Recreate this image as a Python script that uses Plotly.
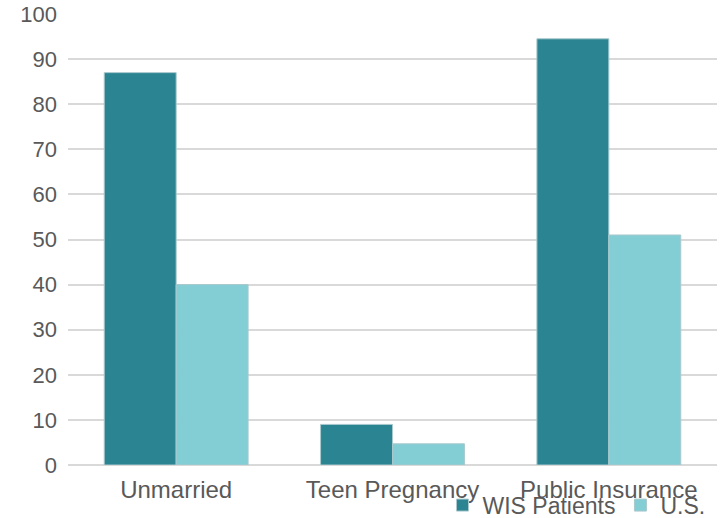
import plotly.graph_objects as go

categories = ["Unmarried", "Teen Pregnancy", "Public Insurance"]
wis_patients = [87, 9, 94.5]
us_values = [40, 4.7, 51]
y_ticks = [0, 10, 20, 30, 40, 50, 60, 70, 80, 90, 100]

FONT = "Liberation Sans, Arial, sans-serif"
TXT = "#595959"

fig = go.Figure()
fig.add_trace(go.Bar(
    x=categories, y=wis_patients, name="WIS Patients",
    marker=dict(color="#2A8491", line=dict(color="#A9C9CD", width=1)),
))
fig.add_trace(go.Bar(
    x=categories, y=us_values, name="U.S.",
    marker=dict(color="#83CED5", line=dict(color="#A9C9CD", width=1)),
))

fig.update_layout(
    width=725, height=518,
    margin=dict(l=68, r=8, t=14, b=53, autoexpand=False),
    paper_bgcolor="white", plot_bgcolor="white",
    barmode="group", bargap=0.335, bargroupgap=0,
    font=dict(family=FONT, color=TXT, size=22),
    showlegend=True,
    legend=dict(
        orientation="h", x=0.99, xanchor="right", y=-0.089, yanchor="middle",
        font=dict(size=23, color=TXT), bgcolor="rgba(0,0,0,0)",
        itemwidth=30, tracegroupgap=0, traceorder="normal",
    ),
)
fig.update_xaxes(
    showgrid=False, showline=False, zeroline=False, ticks="",
    tickfont=dict(size=24, color=TXT), ticklabelstandoff=8,
)
fig.update_yaxes(
    range=[0, 100], tickvals=y_ticks, showgrid=True, gridcolor="#D9D9D9",
    gridwidth=1.5, zeroline=True, zerolinecolor="#D9D9D9", zerolinewidth=1.5,
    showline=False, ticks="", ticklabelstandoff=10,
    tickfont=dict(size=22, color=TXT),
)

fig.write_html("out.html")
